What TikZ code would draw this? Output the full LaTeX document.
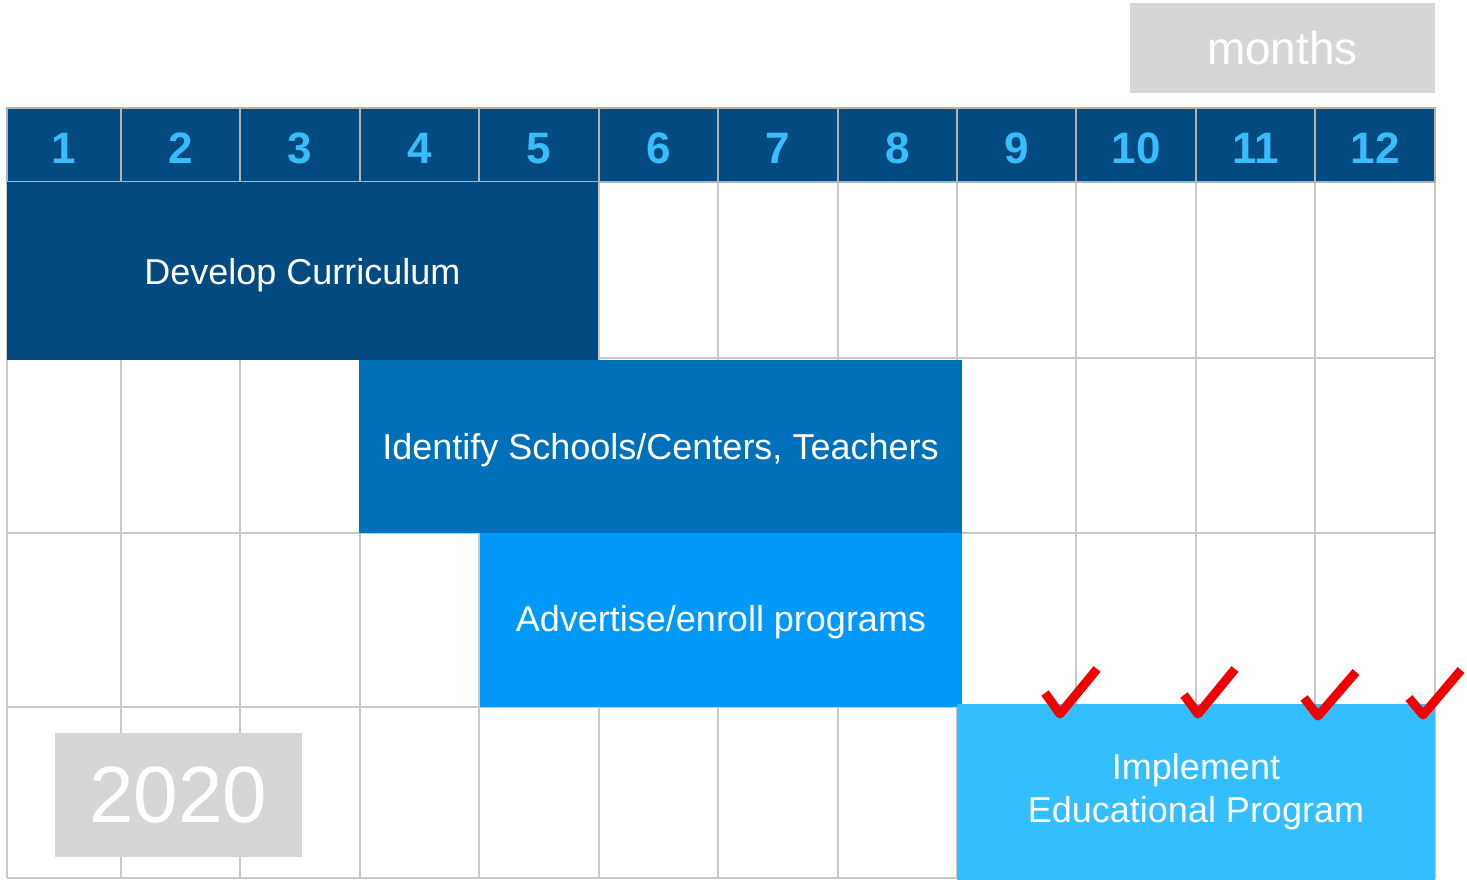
\documentclass[tikz,border=0pt]{standalone}
\usepackage{fontspec}
\setmainfont{Liberation Sans}
\definecolor{hdrblue}{HTML}{024A7F}
\definecolor{numblue}{HTML}{38BDF8}
\definecolor{barA}{HTML}{024A7F}
\definecolor{barB}{HTML}{0070BA}
\definecolor{barC}{HTML}{0099FA}
\definecolor{barD}{HTML}{33BFFF}
\definecolor{gridgray}{HTML}{C8C8C8}
\definecolor{boxgray}{HTML}{D6D6D6}
\definecolor{checkred}{HTML}{F20000}
\tikzset{
  gridline/.style={draw=gridgray, line width=1.5pt},
  hdrcell/.style={draw=gridgray!70!gray, line width=1.5pt, fill=hdrblue, text=numblue,
    minimum height=74pt, inner sep=0pt, text height=37pt, text depth=0pt,
    font=\bfseries\fontsize{44}{50}\selectfont},
  bar/.style={inner sep=0pt, text=white, align=center, font=\fontsize{36}{43}\selectfont},
  onebar/.style={bar, text height=26pt, text depth=0pt},
  graybox/.style={fill=boxgray, inner sep=0pt, text=white},
  checkmark/.style={draw=checkred, line width=9pt, line join=round}
}
\begin{document}
\begin{tikzpicture}[x=1pt,y=-1pt]
\useasboundingbox (0,0) rectangle (1467,880);
% grid body
\foreach \x in {7,121,240,360,479,599,718,838,957,1076,1196,1315,1435}
  \draw[gridline] (\x,182) -- (\x,878);
\foreach \y in {182,358,533,707,878} \draw[gridline] (7,\y) -- (1435,\y);
% header
\foreach \i/\l/\r in {1/7/121,2/121/240,3/240/360,4/360/479,5/479/599,6/599/718,7/718/838,8/838/957,9/957/1076,10/1076/1196,11/1196/1315,12/1315/1435}
  \node[hdrcell, minimum width={(\r-\l)*1pt}] (h\i) at ({(\l+\r)/2},145) {\i};
% bars
\node[onebar, fill=barA, minimum width=591pt, minimum height=178pt] (dev) at (302.5,271) {Develop Curriculum};
\node[onebar, fill=barB, minimum width=603pt, minimum height=173pt] (ident) at (660.5,446.5) {Identify Schools/Centers, Teachers};
\node[onebar, text height=22pt, fill=barC, minimum width=482pt, minimum height=174pt] (adv) at (721,620) {Advertise/enroll programs};
\node[bar, fill=barD, minimum width=478pt, minimum height=177pt] (impl) at (1196,792) {Implement\\Educational Program};
% gray labels
\node[graybox, minimum width=305pt, minimum height=90pt, font=\fontsize{46}{50}\selectfont] (months) at (1282.5,48) {months};
\node[graybox, minimum width=247pt, minimum height=124pt, font=\fontsize{80}{90}\selectfont] (year) at (178.5,795) {2020};
% check marks
\draw[checkmark] (1045,693) -- (1060,714) -- (1097,669);
\draw[checkmark] (1184,695) -- (1198,714) -- (1235,669);
\draw[checkmark] (1304,698) -- (1318,716) -- (1356,672);
\draw[checkmark] (1409,698) -- (1423,715) -- (1461,670);
\end{tikzpicture}
\end{document}
